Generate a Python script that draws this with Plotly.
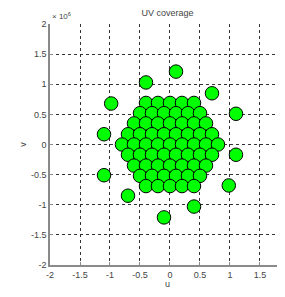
import plotly.graph_objects as go

# UV points (units of 1e6)
u = [
    -0.4, -0.2, 0.0, 0.2, 0.4,
    -0.5, -0.3, -0.1, 0.1, 0.3, 0.5,
    -0.6, -0.4, -0.2, 0.0, 0.2, 0.4, 0.6,
    -0.7, -0.5, -0.3, -0.1, 0.1, 0.3, 0.5, 0.7,
    -0.8, -0.6, -0.4, -0.2, 0.0, 0.2, 0.4, 0.6, 0.8,
    -0.7, -0.5, -0.3, -0.1, 0.1, 0.3, 0.5, 0.7,
    -0.6, -0.4, -0.2, 0.0, 0.2, 0.4, 0.6,
    -0.5, -0.3, -0.1, 0.1, 0.3, 0.5,
    -0.4, -0.2, 0.0, 0.2, 0.4,
    0.1, -0.4, 0.7, -0.98, 1.1, -1.1, 1.1, -1.1, 0.98, -0.7, 0.4, -0.1,
]
v = [
    0.69, 0.69, 0.69, 0.69, 0.69,
    0.52, 0.52, 0.52, 0.52, 0.52, 0.52,
    0.35, 0.35, 0.35, 0.35, 0.35, 0.35, 0.35,
    0.17, 0.17, 0.17, 0.17, 0.17, 0.17, 0.17, 0.17,
    0.0, 0.0, 0.0, 0.0, 0.0, 0.0, 0.0, 0.0, 0.0,
    -0.17, -0.17, -0.17, -0.17, -0.17, -0.17, -0.17, -0.17,
    -0.35, -0.35, -0.35, -0.35, -0.35, -0.35, -0.35,
    -0.52, -0.52, -0.52, -0.52, -0.52, -0.52,
    -0.69, -0.69, -0.69, -0.69, -0.69,
    1.21, 1.03, 0.85, 0.68, 0.51, 0.17, -0.17, -0.51, -0.68, -0.85, -1.03, -1.21,
]
tick_vals = [-2, -1.5, -1, -0.5, 0, 0.5, 1, 1.5, 2]
tick_text = ["-2", "-1.5", "-1", "-0.5", "0", "0.5", "1", "1.5", "2"]

fig = go.Figure()
fig.add_trace(go.Scatter(
    x=u, y=v, mode="markers",
    marker=dict(size=13.5, color="#00ff00", line=dict(color="black", width=1)),
    showlegend=False, cliponaxis=False,
))

axis_common = dict(
    tickvals=tick_vals, ticktext=tick_text, automargin=False,
    showgrid=True, gridcolor="#333333", griddash="dot", gridwidth=1,
    zeroline=False, showline=True, linecolor="#8a8a8a", linewidth=1.5,
    ticks="inside", ticklen=3, tickcolor="#8a8a8a",
    tickfont=dict(family="Liberation Sans, Arial", size=9, color="#444444"),
)

fig.update_layout(
    width=277, height=281,
    margin=dict(l=42, r=0, t=16, b=24),
    plot_bgcolor="white", paper_bgcolor="white",
    xaxis=dict(range=[-2, 1.917], title=dict(text="u", font=dict(size=9, color="#444444"), standoff=3), **axis_common),
    yaxis=dict(range=[-2, 2], title=dict(text="v", font=dict(size=9, color="#444444"), standoff=3), **axis_common),
    title=dict(text="UV coverage", x=0.5, xref="paper", xanchor="center", y=1, yref="container", yanchor="top", pad=dict(t=2),
               font=dict(family="Liberation Sans, Arial", size=9, color="#444444")),
    font=dict(family="Liberation Sans, Arial"),
    annotations=[
        dict(text="× 10<sup>6</sup>", xref="paper", yref="paper", x=0, y=1, xanchor="left", yanchor="bottom",
             showarrow=False, font=dict(size=8, color="#444444"), yshift=1),
        dict(text="× 10<sup>6</sup>", xref="paper", yref="paper", x=0.935, y=0, xanchor="left", yanchor="top",
             showarrow=False, font=dict(size=8, color="#444444"), yshift=-19),
    ],
)

fig.write_html("out.html")
